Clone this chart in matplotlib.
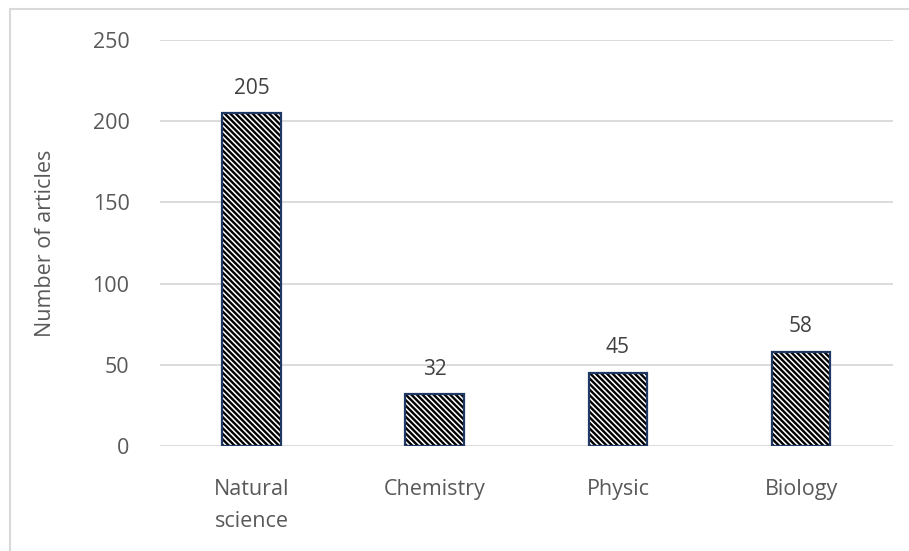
import matplotlib.pyplot as plt
from matplotlib.patches import Rectangle

# data
categories = ["Natural\nscience", "Chemistry", "Physic", "Biology"]
articles = [205, 32, 45, 58]

plt.rcParams['font.family'] = ['Open Sans', 'DejaVu Sans']
plt.rcParams['hatch.linewidth'] = 1.7

fig = plt.figure(figsize=(9.09, 5.51), dpi=100)
ax = fig.add_axes([0.176, 0.1906, 0.806, 0.7368])

x = range(len(categories))
# hatched fill (hatch takes edge colour, so draw outline separately)
ax.bar(x, articles, width=0.32, color='white', edgecolor='black',
       hatch='\\' * 6, linewidth=0, zorder=2)
ax.bar(x, articles, width=0.32, fill=False, edgecolor='#1f3864',
       linewidth=1.6, zorder=3)

for i, v in enumerate(articles):
    ax.annotate(str(v), (i, v), xytext=(0, 18), textcoords='offset points',
                ha='center', va='center', fontsize=15, color='#404040')

ax.set_xlim(-0.5, 3.5)
ax.set_ylim(0, 250)
ax.set_yticks([0, 50, 100, 150, 200, 250])
ax.set_xticks(list(x))
ax.set_xticklabels(categories, linespacing=1.65)
ax.tick_params(length=0, labelsize=15.5, labelcolor='#595959')
ax.tick_params(axis='y', pad=22)
ax.tick_params(axis='x', pad=24)
ax.grid(axis='y', color='#d9d9d9', linewidth=1.3, zorder=0)
ax.set_axisbelow(True)
for s in ax.spines.values():
    s.set_visible(False)
ax.set_ylabel('Number of articles', fontsize=15.5, color='#595959', labelpad=26)

# light outer frame
fig.patches.append(Rectangle((10 / 909, -0.1), 1.2, 1 - 9 / 551 + 0.1,
                             transform=fig.transFigure, fill=False,
                             edgecolor='#d9d9d9', linewidth=1.5))

fig.savefig('out.png')
